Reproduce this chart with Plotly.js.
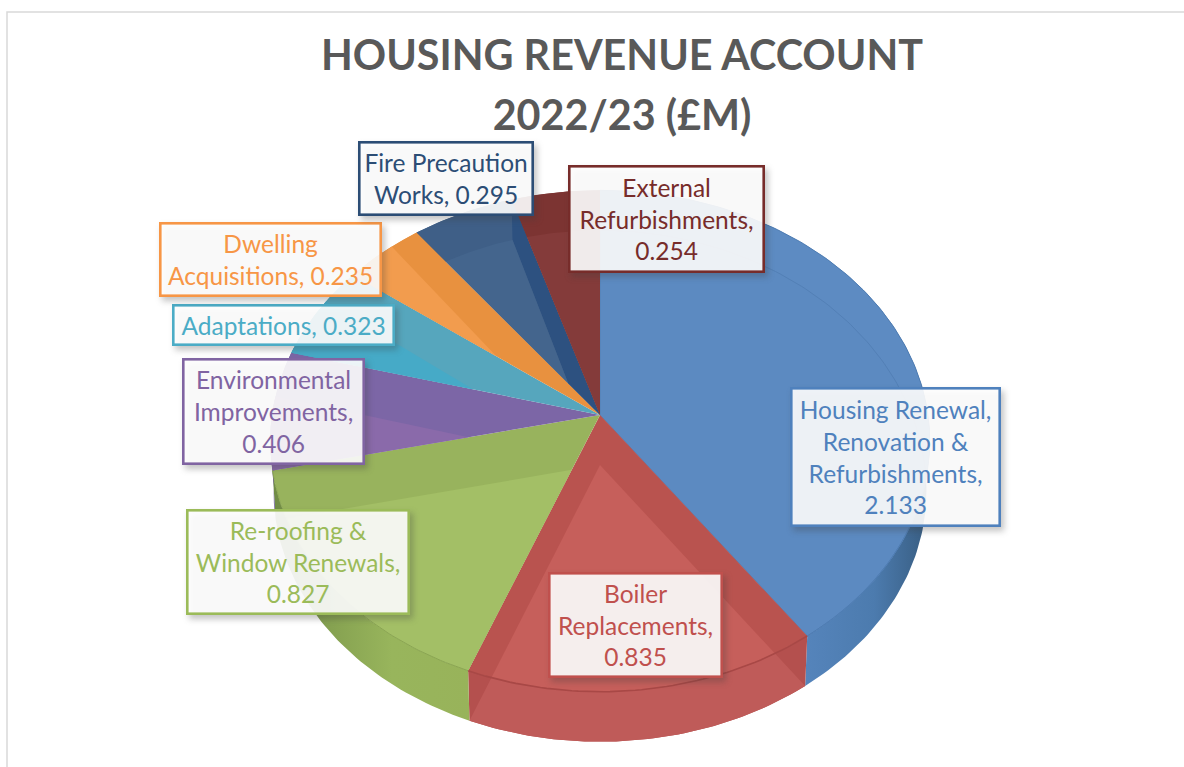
<!DOCTYPE html>
<html><head><meta charset="utf-8">
<script src="https://cdn.plot.ly/plotly-3.0.1.min.js"></script>
<style>
html,body{margin:0;padding:0;background:#fff;overflow:hidden}
#chart{width:1184px;height:767px}
.annotation rect.bg{filter:drop-shadow(3px 4px 3px rgba(60,60,60,.32));}
</style></head><body><div id="chart"></div>
<script>
// ---- data ----
const categories = ["Housing Renewal, Renovation & Refurbishments","Boiler Replacements","Re-roofing & Window Renewals","Environmental Improvements","Adaptations","Dwelling Acquisitions","Fire Precaution Works","External Refurbishments"];
const values = [2.133,0.835,0.827,0.406,0.323,0.235,0.295,0.254];
const valueLabels = ["2.133","0.835","0.827","0.406","0.323","0.235","0.295","0.254"];
const labelLines = [
 ["Housing Renewal,","Renovation &","Refurbishments,"],
 ["Boiler","Replacements,"],
 ["Re-roofing &","Window Renewals,"],
 ["Environmental","Improvements,"],
 ["Adaptations,"],
 ["Dwelling","Acquisitions,"],
 ["Fire Precaution","Works,"],
 ["External","Refurbishments,"]];
const valueOnOwnLine = [true,true,true,true,false,false,false,true];
const titleLines = ["HOUSING REVENUE ACCOUNT","2022/23 (£M)"];

// ---- styles ----
const labelColors = ["#4f81bd","#c0504d","#9bbb59","#8064a2","#4bacc6","#f79646","#2c4d75","#772c2a"];
const topColors   = ["#5d8bc2","#b9534f","#98b35d","#7c66a6","#56a6bd","#e8913f","#3f5f87","#7c3432"];
const floorColors = ["#5c8ac1","#c65f5b","#a3bf66","#8a6aaa","#46aac7","#f29c4e","#44658d","#843b3a"];
const radialColors= [null,null,null,null,null,null,"#2d5180",null];
const wallColors  = ["#4f7fb6","#b4504e","#95b25a","#6d5a9b","#4aa9c5","#e8913f","#3f5f87","#7c3432"];
const floorReachesRim = [false,true,true,true,true,true,false,false];
const boxes = [ // left, top, right, bottom
 [791,388,1000,526],[549,573,722,677],[187,510,409,614],[183,359,364,464],
 [173,305,394,345],[160,223,381,296],[359,142,533,215],[569,166,764,272]];

// ---- projection of the tilted pie ----
const cx=600, cy=415, R=328, Ry=248, P=0.1037;
function proj(deg,floor){
  const t=deg*Math.PI/180, u=Math.sin(t), v=-Math.cos(t), w=1/(1-P*v);
  let x=cx+R*u*w, y=cy+Ry*v*w;
  if(floor){ x=cx+(x-cx)*0.99; y+= v>=0?50:50+10*v; }
  return [x,y];
}
function arc(a0,a1,floor){const n=Math.max(2,Math.ceil(Math.abs(a1-a0)));const o=[];for(let i=0;i<=n;i++)o.push(proj(a0+(a1-a0)*i/n,floor));return o;}
function wedge(a0,a1,floor){return [[cx,floor?cy+50:cy]].concat(arc(a0,a1,floor));}
function clip(subject,win){ // Sutherland-Hodgman, win is convex
  let area=0;for(let i=0;i<win.length;i++){const a=win[i],b=win[(i+1)%win.length];area+=a[0]*b[1]-b[0]*a[1];}
  const s=area>0?1:-1; let out=subject;
  for(let i=0;i<win.length;i++){
    const a=win[i],b=win[(i+1)%win.length];
    if(Math.hypot(a[0]-b[0],a[1]-b[1])<1e-6)continue;
    const side=p=>s*((b[0]-a[0])*(p[1]-a[1])-(b[1]-a[1])*(p[0]-a[0]));
    const inp=out;out=[];
    for(let j=0;j<inp.length;j++){
      const p=inp[j],q=inp[(j+1)%inp.length],sp=side(p),sq=side(q);
      if(sp>=0)out.push(p);
      if((sp>=0)!==(sq>=0)){const k=sp/(sp-sq);out.push([p[0]+(q[0]-p[0])*k,p[1]+(q[1]-p[1])*k]);}
    }
    if(!out.length)break;
  }
  return out;
}
function poly(pts,color,name,extra){
  const c=pts.concat([pts[0]]);
  return Object.assign({type:"scatter",mode:"lines",x:c.map(p=>p[0]),y:c.map(p=>p[1]),fill:"toself",fillcolor:color,
    line:{width:0,color:color},hoverinfo:"skip",showlegend:false,name:name},extra||{});
}
const total=values.reduce((a,b)=>a+b,0);
const starts=[];let acc=0;values.forEach(v=>{starts.push(acc/total*360);acc+=v;});
const walls=[],tops=[];
values.forEach((v,i)=>{
  const a0=starts[i],a1=a0+v/total*360,name=categories[i];
  const wall=arc(a0,a1,false).concat(arc(a1,a0,true));
  const top=wedge(a0,a1,false),flo=wedge(a0,a1,true);
  if(i===0){walls.push(poly(wall,wallColors[i],name,{fillgradient:{type:"horizontal",start:806,stop:930,colorscale:[[0,"#5584bb"],[0.55,"#4c7bae"],[1,"#375c80"]]}}));}
  else if(i===2){walls.push(poly(wall,wallColors[i],name,{fillgradient:{type:"horizontal",start:272,stop:472,colorscale:[[0,"#6f8a45"],[0.3,"#86a251"],[0.6,"#98b55c"],[1,"#98b35a"]]}}));}
  else walls.push(poly(wall,wallColors[i],name));
  if(i===1){const wf=clip(wall,flo);if(wf.length>2)walls.push(poly(wf,"#bf5b59",name));}
  tops.push(poly(top,topColors[i],name));
  if(radialColors[i]){
    const e=proj(a1,false),f=proj(a1,true);
    const q=clip([[cx,cy],e,f,[cx,cy+50]],top);
    if(q.length>2)tops.push(poly(q,radialColors[i],name));
  }
  let fi;
  if(floorReachesRim[i]){
    // the shifted radial edges, carried on to the rim: back wall has the floor's tone
    const A=[cx,cy+50],p0=proj(a0,true),p1=proj(a1,true);
    const far=p=>[A[0]+3*(p[0]-A[0]),A[1]+3*(p[1]-A[1])];
    fi=clip(top,[A,far(p0),far(p1)]);
  } else fi=clip(flo,top);
  if(fi.length>2)tops.push(poly(fi,floorColors[i],name,i===0?{line:{width:1,color:"#5380b6"}}:{}));
});
const edges=[0,1,2].map(i=>{
  const pts=arc(starts[i],starts[i]+values[i]/total*360,false);
  return {type:"scatter",mode:"lines",x:pts.map(p=>p[0]),y:pts.map(p=>p[1]),hoverinfo:"skip",showlegend:false,
    line:{width:i===1?1.6:1,color:["#4f7db3","#a84846","#8aa552"][i]}};
});
const annotations=categories.map((c,i)=>{
  const lines=labelLines[i].slice();
  if(valueOnOwnLine[i])lines.push(valueLabels[i]);else lines[lines.length-1]+=" "+valueLabels[i];
  const b=boxes[i];
  return {xref:"x",yref:"y",x:(b[0]+b[2])/2,y:(b[1]+b[3])/2,xanchor:"center",yanchor:"middle",showarrow:false,
    text:lines.join("<br>"),align:"center",valign:"middle",width:b[2]-b[0]-3,height:b[3]-b[1]-3,
    font:{family:"Lato, 'Open Sans', sans-serif",size:24.5,color:labelColors[i]},
    bgcolor:"rgba(255,255,255,0.9)",bordercolor:labelColors[i],borderwidth:2.6,borderpad:0};
});
const layout={width:1184,height:767,margin:{l:0,r:0,t:0,b:0},paper_bgcolor:"#fff",plot_bgcolor:"#fff",showlegend:false,
  title:{text:titleLines.map(t=>"<span style='font-size:41.3px'>"+t+"</span>").join("<br>"),x:622/1184,xanchor:"center",y:1-70/767,yanchor:"middle",
    font:{family:"Lato, 'Open Sans', sans-serif",size:46,color:"#595959",weight:700}},
  xaxis:{range:[0,1184],visible:false,fixedrange:true},
  yaxis:{range:[767,0],visible:false,fixedrange:true},
  shapes:[{type:"rect",xref:"x",yref:"y",x0:7,y0:12,x1:1200,y1:800,line:{color:"#d9d9d9",width:1.5},layer:"below"}],
  annotations:annotations};
Plotly.newPlot("chart",walls.concat(tops,edges),layout,{displayModeBar:false,staticPlot:true});
</script></body></html>
